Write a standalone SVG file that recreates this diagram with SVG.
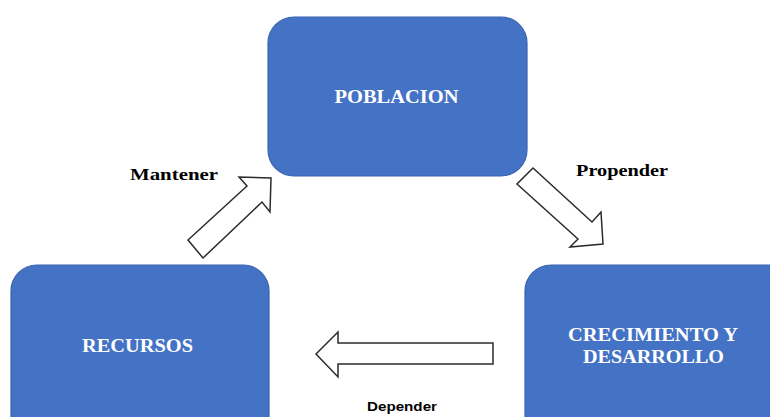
<svg xmlns="http://www.w3.org/2000/svg" width="770" height="417" viewBox="0 0 770 417">
<style>
.box{fill:#4472C4;stroke:#3A64B0;stroke-width:1.2}
.bt{font-family:"Liberation Serif","Times New Roman",serif;font-weight:bold;font-size:18.5px;fill:#FFFFFF;text-anchor:middle}
.lbl{font-family:"Liberation Serif","Times New Roman",serif;font-weight:bold;font-size:17px;fill:#000000}
.lbs{font-family:"Liberation Sans",Arial,sans-serif;font-weight:bold;font-size:12px;fill:#000000}
.arr{fill:#FFFFFF;stroke:#2B2B2B;stroke-width:1.5;stroke-linejoin:miter}
</style>
<rect width="770" height="417" fill="#FFFFFF"/>
<g id="poblacion">
<rect class="box" x="268" y="17" width="259" height="159" rx="26" ry="26"/>
<text class="bt" x="396.5" y="103" textLength="124" lengthAdjust="spacingAndGlyphs">POBLACION</text>
</g>
<g id="recursos">
<rect class="box" x="11" y="265" width="258" height="180" rx="26" ry="26"/>
<text class="bt" x="137.5" y="352" textLength="111" lengthAdjust="spacingAndGlyphs">RECURSOS</text>
</g>
<g id="crecimiento">
<rect class="box" x="525" y="265" width="270" height="180" rx="26" ry="26"/>
<text class="bt" x="653" y="341" textLength="170" lengthAdjust="spacingAndGlyphs">CRECIMIENTO Y</text>
<text class="bt" x="653.5" y="363" textLength="141" lengthAdjust="spacingAndGlyphs">DESARROLLO</text>
</g>
<g id="connectors">
<g id="mantener">
<polygon class="arr" points="271,178 239,177 247,186 188,240 203,258 262,202 270,212"/>
<text class="lbl" x="130" y="180" textLength="88" lengthAdjust="spacingAndGlyphs">Mantener</text>
</g>
<g id="propender">
<polygon class="arr" points="533,168 592,222 601,212 603,244 570,247 578,239 517,184"/>
<text class="lbl" x="576" y="176" textLength="92" lengthAdjust="spacingAndGlyphs">Propender</text>
</g>
<g id="depender">
<polygon class="arr" points="316,354 338,332 338,343 493,343 493,364 338,364 338,377"/>
<text class="lbs" x="367" y="411" textLength="70" lengthAdjust="spacingAndGlyphs">Depender</text>
</g>
</g>
</svg>
